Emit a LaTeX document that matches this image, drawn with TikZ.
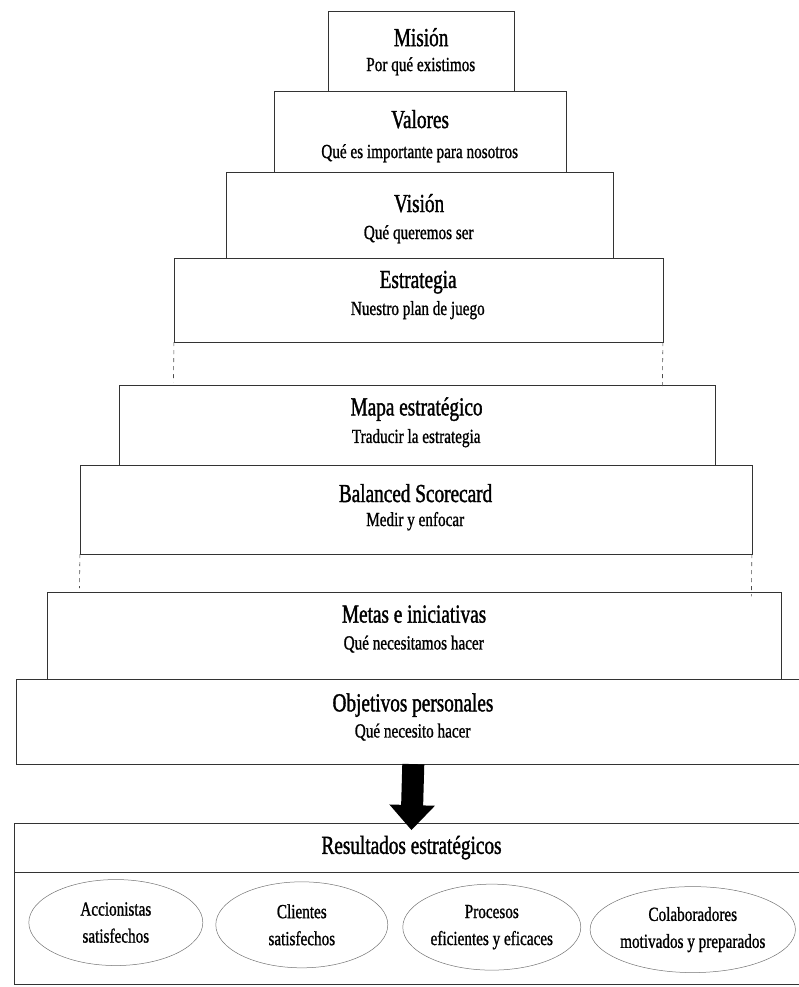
\documentclass[tikz,border=0pt]{standalone}
\usepackage{fontspec}
\setmainfont{Liberation Serif}
\newfontfamily\headfont[FakeStretch=0.74,FakeBold=1.3]{Liberation Serif}
\newfontfamily\linefont[FakeStretch=0.76,FakeBold=1.0]{Liberation Serif}
\usetikzlibrary{calc,shapes.geometric,arrows.meta}
\begin{document}
\begin{tikzpicture}[x=1pt,y=-1pt,
  tier/.style={draw=black!80, line width=0.7pt, anchor=north, inner sep=0pt, outer sep=0pt},
  ttl/.style={font=\headfont\fontsize{26}{28}\selectfont, inner sep=0pt},
  sub/.style={font=\linefont\fontsize{20}{22}\selectfont, inner sep=0pt},
  goal/.style={ellipse, draw=black!55, line width=0.5pt, inner sep=0pt,
    align=center, font=\linefont\fontsize{20}{27}\selectfont},
  gap/.style={draw=black!70, line width=0.6pt, dash pattern=on 4pt off 4pt},
  bigarrow/.style={line width=22pt, -{Triangle[width=44pt,length=25pt]}, black}]
\useasboundingbox (0,0) rectangle (799,987);
\clip (0,0) rectangle (799,987);
\begin{scope}[rotate around={-0.7:(400,500)}]
  % pyramid tiers: centre x = 415.5, widths and tops in pt
  \node[tier, minimum width=186pt, minimum height=80pt] (mision) at (415.5,11) {};
  \node[tier, minimum width=292pt, minimum height=81pt] (valores) at (415.5,91) {};
  \node[tier, minimum width=387pt, minimum height=86pt] (vision) at (415.5,172) {};
  \node[tier, minimum width=489pt, minimum height=84pt] (estrategia) at (415.5,258) {};
  \node[tier, minimum width=596pt, minimum height=80pt] (mapa) at (415.5,385) {};
  \node[tier, minimum width=672pt, minimum height=89pt] (bsc) at (415.5,465) {};
  \node[tier, minimum width=734pt, minimum height=87pt] (metas) at (415.5,592) {};
  \node[tier, minimum width=794pt, minimum height=85pt] (objetivos) at (415.5,679) {};

  % dashed continuations of the side walls
  \draw[gap] (estrategia.south west) -- (estrategia.south west |- mapa.north);
  \draw[gap] (estrategia.south east) -- (estrategia.south east |- mapa.north);
  \draw[gap] (bsc.south west) -- (bsc.south west |- metas.north);
  \draw[gap] (bsc.south east) -- (bsc.south east |- metas.north);

  % tier labels
  \node[ttl] (t1) at ($(mision.north)+(0,26)$) {Misión};
  \node[sub] (s1) at ($(mision.north)+(0,55)$) {Por qué existimos};
  \node[ttl] (t2) at ($(valores.north)+(0,28)$) {Valores};
  \node[sub] (s2) at ($(valores.north)+(0,62)$) {Qué es importante para nosotros};
  \node[ttl] (t3) at ($(vision.north)+(0,31)$) {Visión};
  \node[sub] (s3) at ($(vision.north)+(0,62)$) {Qué queremos ser};
  \node[ttl] (t4) at ($(estrategia.north)+(0,24)$) {Estrategia};
  \node[sub] (s4) at ($(estrategia.north)+(0,52)$) {Nuestro plan de juego};
  \node[ttl] (t5) at ($(mapa.north)+(0,24)$) {Mapa estratégico};
  \node[sub] (s5) at ($(mapa.north)+(0,53)$) {Traducir la estrategia};
  \node[ttl] (t6) at ($(bsc.north)+(0,28)$) {Balanced Scorecard};
  \node[sub] (s6) at ($(bsc.north)+(0,56)$) {Medir y enfocar};
  \node[ttl] (t7) at ($(metas.north)+(0,22)$) {Metas e iniciativas};
  \node[sub] (s7) at ($(metas.north)+(0,52)$) {Qué necesitamos hacer};
  \node[ttl] (t8) at ($(objetivos.north)+(0,26)$) {Objetivos personales};
  \node[sub] (s8) at ($(objetivos.north)+(0,53)$) {Qué necesito hacer};

  % results block
  \node[tier, minimum width=794pt, minimum height=49pt] (resultados) at (415.5,823) {};
  \node[tier, minimum width=794pt, minimum height=112pt] (resbody) at (415.5,872) {};
  \node[ttl] (rt) at (resultados.center) {Resultados estratégicos};

  \node[goal, minimum width=174pt, minimum height=86pt] (acc) at (121,926) {Accionistas\\satisfechos};
  \node[goal, minimum width=172pt, minimum height=86pt] (cli) at (307,926) {Clientes\\satisfechos};
  \node[goal, minimum width=178pt, minimum height=86pt] (pro) at (497,926) {Procesos\\eficientes y eficaces};
  \node[goal, minimum width=202pt, minimum height=86pt] (col) at (698,926) {Colaboradores\\motivados y preparados};

  % arrow from personal objectives to results
  \draw[bigarrow] (objetivos.south) -- ([yshift=-7pt]resultados.north);
\end{scope}
\end{tikzpicture}
\end{document}
